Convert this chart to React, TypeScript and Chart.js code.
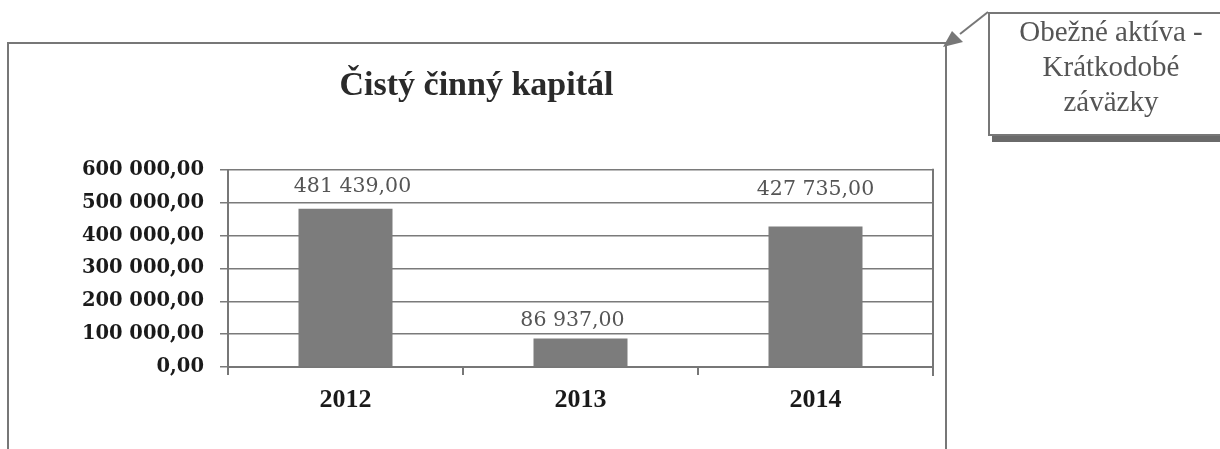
import React, { useEffect, useRef } from "react";
import { Chart, registerables } from "chart.js";

Chart.register(...registerables);

const categories: string[] = ["2012", "2013", "2014"];
const values: number[] = [481439, 86937, 427735];
const chartTitle = "Čistý činný kapitál";
const calloutLines: string[] = ["Obežné aktíva -", "Krátkodobé", "záväzky"];
const yMin = 0;
const yMax = 600000;
const yStep = 100000;

// label placement tweaks (style, not data)
const labelLift = [22, 18, 37];
const labelShift = [7, -8, 0];

function fmt(v: number): string {
  const [i, d] = v.toFixed(2).split(".");
  return i.replace(/\B(?=(\d{3})+(?!\d))/g, " ") + "," + d;
}

const dataLabelPlugin = {
  id: "dataLabels",
  afterDatasetsDraw(chart: any) {
    const ctx = chart.ctx;
    const meta = chart.getDatasetMeta(0);
    ctx.save();
    ctx.font = "20.5px 'DejaVu Serif'";
    ctx.fillStyle = "#555";
    ctx.textAlign = "center";
    ctx.textBaseline = "middle";
    meta.data.forEach((bar: any, i: number) => {
      const v = chart.data.datasets[0].data[i] as number;
      ctx.fillText(fmt(v), bar.x + (labelShift[i] || 0), bar.y - (labelLift[i] || 20));
    });
    ctx.restore();
  },
};

const frameRightPlugin = {
  id: "frameRight",
  afterDraw(chart: any) {
    const { ctx, chartArea } = chart;
    ctx.save();
    ctx.strokeStyle = "#777";
    ctx.lineWidth = 2;
    ctx.beginPath();
    ctx.moveTo(chartArea.right, chartArea.top - 1);
    ctx.lineTo(chartArea.right, chartArea.bottom + 9);
    ctx.stroke();
    ctx.restore();
  },
};

export default function App() {
  const ref = useRef<HTMLCanvasElement | null>(null);

  useEffect(() => {
    if (!ref.current) return;
    const chart = new Chart(ref.current, {
      type: "bar",
      data: {
        labels: categories,
        datasets: [
          {
            data: values,
            backgroundColor: "#7c7c7c",
            borderWidth: 0,
            categoryPercentage: 1,
            barPercentage: 0.4,
          },
        ],
      },
      options: {
        animation: false,
        responsive: false,
        devicePixelRatio: 1,
        layout: { padding: { left: 20, right: 287, top: 66, bottom: 0 } },
        plugins: {
          legend: { display: false },
          tooltip: { enabled: false },
          title: {
            display: true,
            text: chartTitle,
            color: "#2a2a2a",
            font: { family: "'Liberation Serif'", size: 34, weight: "bold" },
            padding: { top: 0, bottom: 63 },
          },
        },
        scales: {
          x: {
            offset: true,
            grid: {
              display: true,
              drawOnChartArea: false,
              drawTicks: true,
              tickLength: 8,
              color: "#777",
              lineWidth: 2,
              offset: true,
            },
            border: { display: true, color: "#777", width: 2 },
            ticks: {
              color: "#1a1a1a",
              padding: 10,
              font: { family: "'Liberation Serif'", size: 26, weight: "bold" },
            },
            afterFit: (scale: any) => {
              scale.height = 82;
            },
          },
          y: {
            min: yMin,
            max: yMax,
            grid: {
              color: "#7a7a7a",
              lineWidth: 1.5,
              drawTicks: true,
              tickLength: 8,
            },
            border: { display: true, color: "#777", width: 2 },
            ticks: {
              stepSize: yStep,
              color: "#1a1a1a",
              padding: 16,
              font: { family: "'DejaVu Serif'", size: 19.5, weight: "bold" },
              callback: (v: any) => fmt(Number(v)),
            },
            afterFit: (scale: any) => {
              scale.width = 208;
            },
          },
        },
      },
      plugins: [dataLabelPlugin, frameRightPlugin],
    });
    return () => chart.destroy();
  }, []);

  return (
    <div
      style={{
        position: "absolute",
        left: 0,
        top: 0,
        width: 1220,
        height: 449,
        overflow: "hidden",
        background: "#fff",
      }}
    >
      <canvas ref={ref} width={1220} height={449} style={{ position: "absolute", left: 0, top: 0 }} />
      <svg
        width={1220}
        height={449}
        style={{ position: "absolute", left: 0, top: 0, pointerEvents: "none" }}
      >
        <polyline points="8,449 8,43 946,43" fill="none" stroke="#777" strokeWidth={2} />
        <line x1={946} y1={43} x2={946} y2={449} stroke="#777" strokeWidth={2} />
        <line x1={960} y1={34} x2={988} y2={12} stroke="#777" strokeWidth={2} />
        <polygon points="952,31 943,47 963,42" fill="#777" />
      </svg>
      <div
        style={{
          position: "absolute",
          left: 988,
          top: 12,
          width: 244,
          height: 124,
          boxSizing: "border-box",
          border: "2px solid #777",
          borderRight: "none",
          boxShadow: "4px 6px 0 #6a6a6a",
          background: "#fff",
          paddingTop: 0,
          textAlign: "center",
          fontFamily: "'Liberation Serif'",
          fontSize: 29,
          lineHeight: "35px",
          color: "#555",
        }}
      >
        {calloutLines.map((l, i) => (
          <div key={i}>{l}</div>
        ))}
      </div>
    </div>
  );
}
